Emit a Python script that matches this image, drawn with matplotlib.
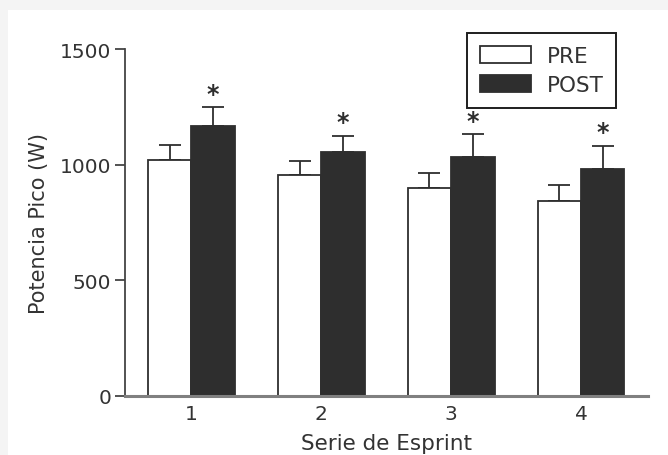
import numpy as np
import matplotlib
matplotlib.use("Agg")
from matplotlib import pyplot as plt
from matplotlib.patches import Rectangle

# DATA
series = [1, 2, 3, 4]
pre = [1021, 957, 897, 845]
pre_err = [65, 60, 68, 65]
post = [1168, 1056, 1034, 983]
post_err = [81, 69, 99, 99]
signif = ["*", "*", "*", "*"]

plt.rcParams['font.family'] = ['DejaVu Sans']
fig = plt.figure(figsize=(6.68, 4.56), dpi=100, facecolor='#f4f4f4')
fig.patches.append(Rectangle((8 / 668, 0), 1, 1 - 11 / 456, transform=fig.transFigure,
                             facecolor='white', edgecolor='none', zorder=-5))

ax = fig.add_axes([125 / 668, 1 - 397 / 456, (648 - 125) / 668, (397 - 50) / 456])
ax.patch.set_alpha(0)

x = np.array(series, dtype=float)
w = 0.334
edge = '#2e2e2e'
ax.bar(x - w / 2, pre, w, color='white', edgecolor=edge, linewidth=1.3,
       label='PRE', zorder=2)
ax.bar(x + w / 2, post, w, color='#2e2e2e', edgecolor=edge, linewidth=1.3,
       label='POST', zorder=2)
ax.errorbar(x - w / 2, pre, yerr=[np.zeros(4), pre_err], fmt='none',
            ecolor=edge, elinewidth=1.3, capsize=8, capthick=1.3, zorder=1)
ax.errorbar(x + w / 2, post, yerr=[np.zeros(4), post_err], fmt='none',
            ecolor=edge, elinewidth=1.3, capsize=8, capthick=1.3, zorder=1)

# significance markers
for xi, v, e, s in zip(x, post, post_err, signif):
    ax.annotate(s, (xi + w / 2, v + e), xytext=(0, 1), textcoords='offset points',
                ha='center', va='bottom', fontsize=17, fontweight='bold', color='#2e2e2e')

ax.set_xlim(0.49, 4.515)
ax.set_ylim(0, 1500)
ax.set_yticks([0, 500, 1000, 1500])
ax.set_xticks(series)

for side in ['top', 'right']:
    ax.spines[side].set_visible(False)
ax.spines['left'].set_color('#444444')
ax.spines['left'].set_linewidth(1.3)
ax.spines['bottom'].set_color('#808080')
ax.spines['bottom'].set_linewidth(2.2)

ax.tick_params(axis='y', length=7, width=1.3, color='#444444', pad=3,
               labelsize=14.5, labelcolor='#333333')
ax.tick_params(axis='x', length=0, pad=6, labelsize=14.5, labelcolor='#333333')

ax.set_xlabel('Serie de Esprint', fontsize=15.5, color='#333333', va='top')
ax.xaxis.set_label_coords(0.5, (397 - 434) / 347)
ax.set_ylabel('Potencia Pico (W)', fontsize=15, color='#333333')
ax.yaxis.set_label_coords((49 - 125) / 523, 0.5)

leg = ax.legend(loc='upper left', bbox_to_anchor=((467 - 125) / 523, 1 + 16 / 347),
                frameon=True, fancybox=False, framealpha=1, fontsize=15.5,
                handlelength=2.35, handleheight=0.85, borderpad=0.6, labelspacing=0.42,
                handletextpad=0.75, borderaxespad=0)
leg.get_frame().set_edgecolor('#1e1e1e')
leg.get_frame().set_linewidth(1.4)
for t in leg.get_texts():
    t.set_color('#333333')

fig.savefig('out.png', dpi=100, facecolor=fig.get_facecolor())
